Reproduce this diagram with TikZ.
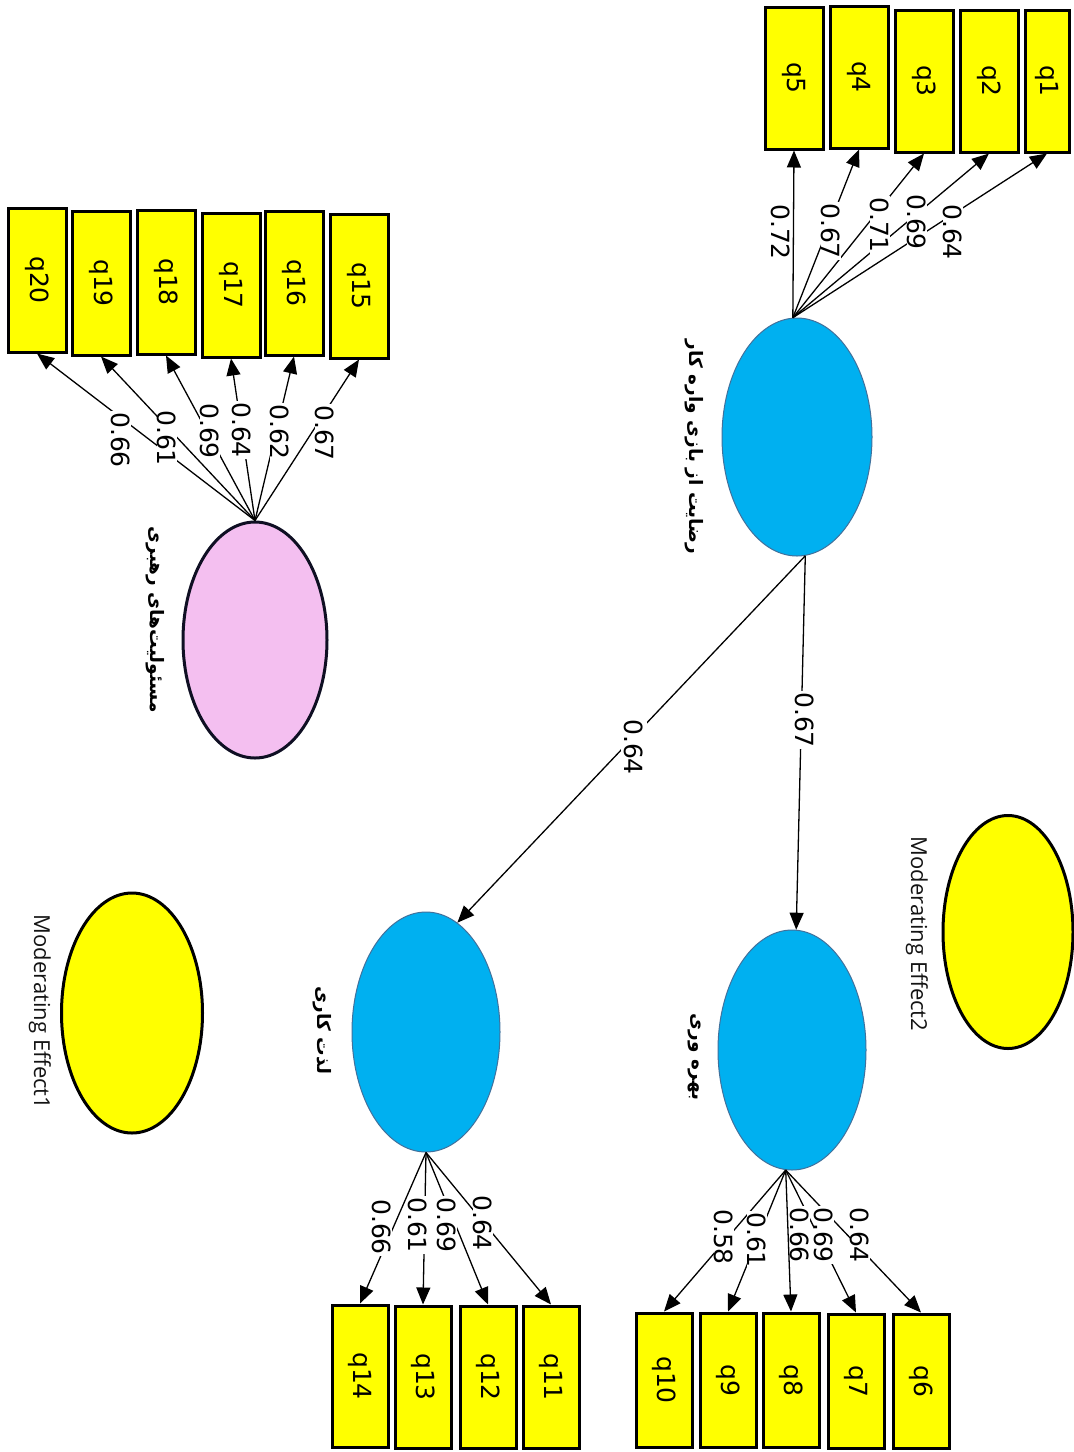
\documentclass[tikz,border=0pt]{standalone}
\usepackage{fontspec}
\usepackage{graphicx}
\setmainfont{DejaVu Sans}
\newfontfamily\opensans{Open Sans}
\newfontfamily\farsi[Script=Arabic,BoldFont={DejaVu Sans Bold}]{DejaVu Sans}
\TeXXeTstate=1
\usetikzlibrary{shapes.geometric,arrows.meta}
\definecolor{lblue}{RGB}{0,176,240}
\definecolor{bedge}{RGB}{65,113,156}
\definecolor{pinkf}{RGB}{244,191,240}
\definecolor{pedge}{RGB}{15,15,35}
\definecolor{yel}{RGB}{255,255,0}
\begin{document}
\begin{tikzpicture}[x=1pt,y=-1pt,
  box/.style={draw=black, line width=3pt, fill=yel, minimum width=58pt, minimum height=142pt, inner sep=0pt, font=\fontsize{25}{29}\selectfont},
  lat/.style={ellipse, draw=bedge, line width=1pt, fill=lblue, inner sep=0pt},
  modl/.style={ellipse, draw=black, line width=3pt, fill=yel, inner sep=0pt},
  arr/.style={-{Triangle[length=17pt,width=14pt]}, line width=1.3pt},
  lbl/.style={rotate=-90, fill=white, inner sep=1pt, font=\fontsize{25}{29}\selectfont},
  fa/.style={rotate=-90, inner sep=0pt, font=\farsi\bfseries\fontsize{18.5}{22}\selectfont},
  modt/.style={rotate=-90, inner sep=0pt, text=black!92, font=\opensans\fontsize{22}{26}\selectfont}]
\useasboundingbox (0,0) rectangle (1074,1452);
\fill[white] (0,0) rectangle (1074,1452);

% latent ellipses
\node[lat, minimum width=150pt, minimum height=238pt] (e1) at (797,437) {};
\node[lat, minimum width=148pt, minimum height=240pt] (e2) at (792,1050) {};
\node[lat, minimum width=148pt, minimum height=240pt] (e3) at (426,1032) {};
\node[ellipse, draw=pedge, line width=3pt, fill=pinkf, inner sep=0pt, minimum width=144pt, minimum height=236pt] (pk) at (255,640) {};
\node[modl, minimum width=130pt, minimum height=233pt] (m2) at (1008,932) {};
\node[modl, minimum width=141pt, minimum height=240pt] (m1) at (132,1013) {};

% latent labels
\node[fa] (t1) at (694,447) {\beginR رضایت از بازی واره کار\endR};
\node[fa] (t2) at (155,620) {\beginR مسئولیت‌های رهبری\endR};
\node[fa] (t3) at (695,1057) {\beginR بهره وری\endR};
\node[fa] (t4) at (322,1030) {\beginR لذت کاری\endR};
\node[modt] (mt2) at (917,934) {Moderating Effect2};
\node[modt] (mt1) at (40,1012) {Moderating Effect1};

% indicator boxes, top group
\node[box] (q5) at (794,78) {\rotatebox{-90}{q5}};
\node[box] (q4) at (859,77) {\rotatebox{-90}{q4}};
\node[box] (q3) at (924,81) {\rotatebox{-90}{q3}};
\node[box] (q2) at (989,81) {\rotatebox{-90}{q2}};
\node[box, minimum width=44pt] (q1) at (1047,81) {\rotatebox{-90}{q1}};

% pink group
\node[box, minimum height=144pt] (q20) at (37,280) {\rotatebox{-90}{q20}};
\node[box, minimum height=144pt] (q19) at (101,283) {\rotatebox{-90}{q19}};
\node[box, minimum height=144pt] (q18) at (166,282) {\rotatebox{-90}{q18}};
\node[box, minimum height=144pt] (q17) at (231,285) {\rotatebox{-90}{q17}};
\node[box, minimum height=144pt] (q16) at (294,283) {\rotatebox{-90}{q16}};
\node[box, minimum height=144pt] (q15) at (359,286) {\rotatebox{-90}{q15}};

% e2 group
\node[box, minimum width=56pt, minimum height=134pt] (q10) at (664,1380) {\rotatebox{-90}{q10}};
\node[box, minimum width=56pt, minimum height=134pt] (q9) at (728,1380) {\rotatebox{-90}{q9}};
\node[box, minimum width=56pt, minimum height=134pt] (q8) at (791,1380) {\rotatebox{-90}{q8}};
\node[box, minimum width=56pt, minimum height=134pt] (q7) at (856,1381) {\rotatebox{-90}{q7}};
\node[box, minimum width=56pt, minimum height=134pt] (q6) at (921,1381) {\rotatebox{-90}{q6}};

% e3 group
\node[box, minimum width=56pt] (q14) at (360,1376) {\rotatebox{-90}{q14}};
\node[box, minimum width=56pt] (q13) at (423,1377) {\rotatebox{-90}{q13}};
\node[box, minimum width=56pt] (q12) at (488,1377) {\rotatebox{-90}{q12}};
\node[box, minimum width=56pt] (q11) at (551,1377) {\rotatebox{-90}{q11}};

% structural paths
\draw[arr] (e1.-86) -- (e2.88);
\draw[arr] (e1.-86) -- (e3.74);

% loadings e1
\draw[arr] (e1.92) -- (q5.south);
\draw[arr] (e1.92) -- (q4.south);
\draw[arr] (e1.92) -- (q3.south);
\draw[arr] (e1.92) -- (q2.south);
\draw[arr] (e1.92) -- (q1.south);

% loadings pink
\draw[arr] (pk.north) -- (q20.south);
\draw[arr] (pk.north) -- (q19.south);
\draw[arr] (pk.north) -- (q18.south);
\draw[arr] (pk.north) -- (q17.south);
\draw[arr] (pk.north) -- (q16.south);
\draw[arr] (pk.north) -- (q15.south);

% loadings e2
\draw[arr] (e2.-93) -- (q10.north);
\draw[arr] (e2.-93) -- (q9.north);
\draw[arr] (e2.-93) -- (q8.north);
\draw[arr] (e2.-93) -- (q7.north);
\draw[arr] (e2.-93) -- (q6.north);

% loadings e3
\draw[arr] (e3.south) -- (q14.north);
\draw[arr] (e3.south) -- (q13.north);
\draw[arr] (e3.south) -- (q12.north);
\draw[arr] (e3.south) -- (q11.north);

% coefficient labels
\node[lbl] (s1) at (805,720) {0.67};
\node[lbl, inner sep=4pt] (s2) at (634,747) {0.64};
\node[lbl] (a5) at (781,232) {0.72};
\node[lbl] (a4) at (831,231) {0.67};
\node[lbl] (a3) at (880,225) {0.71};
\node[lbl] (a2) at (917,222) {0.69};
\node[lbl] (a1) at (953,232) {0.64};
\node[lbl] (p20) at (121,440) {0.66};
\node[lbl] (p19) at (167,438) {0.61};
\node[lbl] (p18) at (210,431) {0.69};
\node[lbl] (p17) at (242,430) {0.64};
\node[lbl] (p16) at (280,432) {0.62};
\node[lbl] (p15) at (325,433) {0.67};
\node[lbl] (b10) at (724,1237) {0.58};
\node[lbl] (b9) at (757,1240) {0.61};
\node[lbl] (b8) at (800,1235) {0.66};
\node[lbl] (b7) at (824,1235) {0.69};
\node[lbl] (b6) at (860,1235) {0.64};
\node[lbl] (c14) at (382,1227) {0.66};
\node[lbl] (c13) at (418,1225) {0.61};
\node[lbl] (c12) at (447,1225) {0.69};
\node[lbl] (c11) at (483,1223) {0.64};
\end{tikzpicture}
\end{document}
